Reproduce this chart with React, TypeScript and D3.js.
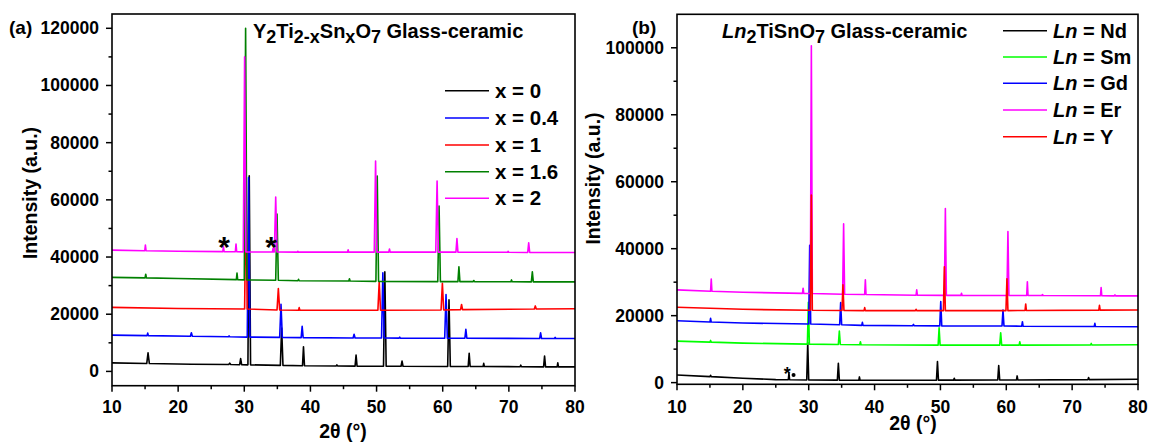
import React from "react";
import * as d3 from "d3";

type Pt = [number, number];

// ---------- Panel (a): Y2Ti2-xSnxO7 ----------
const aSeriesNames = ["x = 0", "x = 0.4", "x = 1", "x = 1.6", "x = 2"];
const aColors = ["#000000", "#0000ff", "#ff0000", "#008000", "#ff00ff"];

const aX0: Pt[] = [[10,3000],[15.25,2750],[15.45,6500],[15.65,2750],[22,2500],[27.65,2400],[27.8,2900],[27.95,2400],[29.3,2350],[29.45,4500],[29.6,2350],[30.55,2300],[30.75,68400],[30.95,2300],[35.45,2100],[35.65,15200],[35.85,2100],[38.8,2000],[38.95,8600],[39.1,2000],[43.9,1900],[44.0,2300],[44.1,1900],[46.75,1850],[46.9,5700],[47.05,1850],[51.05,1800],[51.25,34800],[51.45,1800],[53.7,1800],[53.85,3600],[54.0,1800],[60.75,1700],[60.95,25000],[61.15,1700],[63.85,1700],[64.0,6300],[64.15,1700],[66.1,1700],[66.2,2800],[66.3,1700],[71.7,1650],[71.8,2200],[71.9,1650],[75.25,1600],[75.4,5400],[75.55,1600],[77.3,1600],[77.4,3000],[77.5,1600],[80,1600]];
const aX04: Pt[] = [[10,12700],[15.3,12500],[15.4,13400],[15.5,12500],[21.85,12300],[22.0,13500],[22.15,12300],[27.6,12100],[27.7,12400],[27.8,12100],[30.45,12000],[30.65,67800],[30.85,12000],[35.35,11900],[35.55,23500],[35.75,11900],[38.6,11800],[38.75,15800],[38.9,11800],[46.45,11700],[46.6,13000],[46.75,11700],[50.75,11700],[50.95,34500],[51.15,11700],[53.4,11650],[53.5,12000],[53.6,11650],[60.3,11600],[60.5,26900],[60.7,11600],[63.35,11600],[63.5,14700],[63.65,11600],[74.65,11500],[74.8,13500],[74.95,11500],[76.9,11500],[77.0,11900],[77.1,11500],[80,11500]];
const aX1: Pt[] = [[10,22400],[20,22000],[30.05,21800],[30.25,62000],[30.45,21800],[34.95,21500],[35.15,29000],[35.35,21500],[38.2,21400],[38.3,22300],[38.4,21400],[50.2,21400],[50.4,31300],[50.6,21400],[59.75,21500],[59.95,30800],[60.15,21500],[62.7,21600],[62.85,23400],[63.0,21600],[73.85,21800],[74.0,22900],[74.15,21800],[80,21900]];
const aX16: Pt[] = [[10,32900],[15.0,32700],[15.1,34000],[15.2,32700],[20,32500],[28.8,32100],[28.9,34400],[29.0,32100],[30.0,32000],[30.2,120000],[30.4,32000],[34.75,31900],[34.95,55000],[35.15,31900],[38.1,31700],[38.2,32200],[38.3,31700],[45.8,31600],[45.9,32400],[46.0,31600],[49.9,31500],[50.1,68300],[50.3,31500],[59.25,31400],[59.45,57800],[59.65,31400],[62.3,31400],[62.45,36600],[62.6,31400],[64.6,31400],[64.7,31800],[64.8,31400],[70.3,31350],[70.4,32000],[70.5,31350],[73.4,31300],[73.55,34800],[73.7,31300],[80,31300]];
const aX2: Pt[] = [[10,42400],[14.95,42200],[15.05,44200],[15.15,42200],[20,42000],[26.75,41900],[26.85,43600],[26.95,41900],[28.65,41850],[28.75,44500],[28.85,41850],[29.85,41800],[30.05,110000],[30.25,41800],[34.25,41750],[34.35,43000],[34.45,41750],[34.55,41750],[34.75,61000],[34.95,41750],[38.0,41700],[38.1,42000],[38.2,41700],[45.6,41700],[45.7,42500],[45.8,41700],[49.65,41700],[49.85,73600],[50.05,41700],[51.85,41700],[51.95,42800],[52.05,41700],[58.95,41700],[59.15,66600],[59.35,41700],[62.0,41700],[62.15,46500],[62.3,41700],[69.8,41650],[69.9,42000],[70.0,41650],[72.85,41600],[73.0,45000],[73.15,41600],[80,41600]];
const aSeries = [aX0, aX04, aX1, aX16, aX2];

const aXTicks = [10, 20, 30, 40, 50, 60, 70, 80];
const aXMinor = [15, 25, 35, 45, 55, 65, 75];
const aYTicks = [0, 20000, 40000, 60000, 80000, 100000, 120000];
const aYMinor = [10000, 30000, 50000, 70000, 90000, 110000];
const aStars: Pt[] = [[26.95, 45500], [34.05, 45500]];

// ---------- Panel (b): Ln2TiSnO7 ----------
const bSeriesNames = ["Nd", "Sm", "Gd", "Er", "Y"];
const bColors = ["#000000", "#00ff00", "#0000ff", "#ff00ff", "#ff0000"];

const bNd: Pt[] = [[10,2300],[15.0,1800],[15.1,2200],[15.2,1800],[20,1300],[25,900],[26.9,850],[27.0,2800],[27.1,850],[29.7,800],[29.85,12000],[30.0,800],[34.35,750],[34.5,5800],[34.65,750],[37.6,700],[37.7,1700],[37.8,700],[40,700],[49.4,750],[49.55,6300],[49.7,750],[52.0,750],[52.1,1300],[52.2,750],[58.7,800],[58.85,5100],[59.0,800],[61.55,800],[61.65,2000],[61.75,800],[72.4,900],[72.5,1500],[72.6,900],[80,1000]];
const bSm: Pt[] = [[10,12400],[15.0,12100],[15.1,12600],[15.2,12100],[20,11800],[29.8,11500],[29.95,24000],[30.1,11500],[34.5,11400],[34.65,15400],[34.8,11400],[37.75,11300],[37.85,12200],[37.95,11300],[49.65,11200],[49.8,16400],[49.95,11200],[59.0,11200],[59.15,14900],[59.3,11200],[61.95,11200],[62.05,12200],[62.15,11200],[72.8,11250],[72.9,11700],[73.0,11250],[80,11300]];
const bGd: Pt[] = [[10,18500],[15.0,18100],[15.1,19200],[15.2,18100],[20,17800],[30.0,17500],[30.15,41000],[30.3,17500],[34.7,17300],[34.85,23900],[35.0,17300],[38.05,17100],[38.15,18000],[38.25,17100],[45.8,17000],[45.9,17400],[46.0,17000],[49.9,16950],[50.05,24200],[50.2,16950],[59.35,16900],[59.5,21700],[59.65,16900],[62.35,16850],[62.45,18200],[62.55,16850],[73.35,16750],[73.45,17700],[73.55,16750],[80,16700]];
const bEr: Pt[] = [[10,27700],[15.1,27300],[15.2,30900],[15.3,27300],[20,27000],[29.05,26650],[29.15,28200],[29.25,26650],[30.25,26600],[30.4,100600],[30.55,26600],[35.15,26400],[35.3,47400],[35.45,26400],[38.5,26300],[38.6,30700],[38.7,26300],[46.3,26100],[46.4,27700],[46.5,26100],[50.6,26050],[50.75,52000],[50.9,26050],[53.1,26050],[53.2,26700],[53.3,26050],[60.1,26000],[60.25,45100],[60.4,26000],[63.1,26000],[63.2,30100],[63.3,26000],[65.4,26000],[65.5,26300],[65.6,26000],[74.3,25950],[74.4,28400],[74.5,25950],[76.4,25900],[76.5,26200],[76.6,25900],[80,25900]];
const bY: Pt[] = [[10,22500],[20,21900],[30.25,21600],[30.4,56000],[30.55,21600],[35.05,21550],[35.2,29200],[35.35,21550],[38.4,21500],[38.5,22400],[38.6,21500],[46.2,21500],[46.3,21900],[46.4,21500],[50.45,21500],[50.6,34600],[50.75,21500],[59.95,21500],[60.1,31000],[60.25,21500],[62.85,21550],[62.95,23500],[63.05,21550],[74.05,21650],[74.15,23100],[74.25,21650],[80,21700]];
const bSeries = [bNd, bSm, bGd, bEr, bY];

const bXTicks = [10, 20, 30, 40, 50, 60, 70, 80];
const bXMinor = [15, 25, 35, 45, 55, 65, 75];
const bYTicks = [0, 20000, 40000, 60000, 80000, 100000];
const bYMinor = [10000, 30000, 50000, 70000, 90000];
const bStar: Pt = [26.75, 3500];
const bDot: Pt = [27.7, 2300];

const FONT = "'Liberation Sans', Arial, Helvetica, sans-serif";

interface AxesProps {
  x: d3.ScaleLinear<number, number>;
  y: d3.ScaleLinear<number, number>;
  xTicks: number[];
  xMinor: number[];
  yTicks: number[];
  yMinor: number[];
}

function Axes({ x, y, xTicks, xMinor, yTicks, yMinor }: AxesProps) {
  const [x0, x1] = x.range();
  const [y0, y1] = y.range();
  return (
    <g fontFamily={FONT} fontWeight="bold">
      <rect x={x0} y={y1} width={x1 - x0} height={y0 - y1} fill="none" stroke="#000" strokeWidth={1.6} />
      {xTicks.map((t) => (
        <g key={"xt" + t}>
          <line x1={x(t)} x2={x(t)} y1={y0} y2={y0 + 6} stroke="#000" strokeWidth={1.5} />
          <text x={x(t)} y={412.5} textAnchor="middle" fontSize={17.5}>{t}</text>
        </g>
      ))}
      {xMinor.map((t) => (
        <line key={"xm" + t} x1={x(t)} x2={x(t)} y1={y0} y2={y0 + 3.5} stroke="#000" strokeWidth={1.5} />
      ))}
      {yTicks.map((t) => (
        <g key={"yt" + t}>
          <line x1={x0 - 6} x2={x0} y1={y(t)} y2={y(t)} stroke="#000" strokeWidth={1.5} />
          <text x={x0 - 13} y={y(t) + 6} textAnchor="end" fontSize={17.5}>{t}</text>
        </g>
      ))}
      {yMinor.map((t) => (
        <line key={"ym" + t} x1={x0 - 3.5} x2={x0} y1={y(t)} y2={y(t)} stroke="#000" strokeWidth={1.5} />
      ))}
    </g>
  );
}

export default function App() {
  // Panel (a) scales
  const ax = d3.scaleLinear().domain([10, 80]).range([112, 575]);
  const ay = d3.scaleLinear().domain([-5000, 125000]).range([385.7, 14]);
  // Panel (b) scales
  const bx = d3.scaleLinear().domain([10, 80]).range([677, 1138]);
  const by = d3.scaleLinear().domain([-500, 110000]).range([384.3, 14.3]);

  const aLine = d3.line<Pt>().x((d) => ax(d[0])).y((d) => ay(d[1]));
  const bLine = d3.line<Pt>().x((d) => bx(d[0])).y((d) => by(d[1]));

  const aLegendY = [90.7, 118, 145, 171.7, 198.3];
  const bLegendY = [30.7, 56.9, 83.3, 110, 136.7];

  return (
    <svg width={1149} height={443} style={{ position: "absolute", left: 0, top: 0, background: "#fff" }}>
      <rect width={1149} height={443} fill="#fff" />
      {/* ---------------- Panel (a) ---------------- */}
      <g>
        {aSeries.map((s, i) => (
          <path key={"a" + i} d={aLine(s) || ""} fill="none" stroke={aColors[i]} strokeWidth={1.6} strokeLinejoin="round" />
        ))}
        <Axes x={ax} y={ay} xTicks={aXTicks} xMinor={aXMinor} yTicks={aYTicks} yMinor={aYMinor} />
        <g fontFamily={FONT} fontWeight="bold" fill="#000">
          <text x={9} y={34} fontSize={19}>(a)</text>
          <text x={253} y={38} fontSize={20}>
            Y<tspan dy={5} fontSize={18}>2</tspan>
            <tspan dy={-5}>Ti</tspan>
            <tspan dy={5} fontSize={18}>2-x</tspan>
            <tspan dy={-5}>Sn</tspan>
            <tspan dy={5} fontSize={18}>x</tspan>
            <tspan dy={-5}>O</tspan>
            <tspan dy={5} fontSize={18}>7</tspan>
            <tspan dy={-5}> Glass-ceramic</tspan>
          </text>
          <text transform={`translate(37,193) rotate(-90)`} textAnchor="middle" fontSize={19.5}>Intensity (a.u.)</text>
          <text x={343} y={438} textAnchor="middle" fontSize={19.5}>2θ (°)</text>
          {aStars.map((p, i) => (
            <text key={"s" + i} x={ax(p[0])} y={ay(p[1]) + 16} textAnchor="middle" fontSize={30}>*</text>
          ))}
          {aSeriesNames.map((n, i) => (
            <g key={"al" + i}>
              <line x1={445} x2={489} y1={aLegendY[i]} y2={aLegendY[i]} stroke={aColors[i]} strokeWidth={1.5} />
              <text x={495} y={aLegendY[i] + 7} fontSize={20.5}>{n}</text>
            </g>
          ))}
        </g>
      </g>

      {/* ---------------- Panel (b) ---------------- */}
      <g>
        {bSeries.map((s, i) => (
          <path key={"b" + i} d={bLine(s) || ""} fill="none" stroke={bColors[i]} strokeWidth={1.6} strokeLinejoin="round" />
        ))}
        <Axes x={bx} y={by} xTicks={bXTicks} xMinor={bXMinor} yTicks={bYTicks} yMinor={bYMinor} />
        <g fontFamily={FONT} fontWeight="bold" fill="#000">
          <text x={632} y={34} fontSize={19}>(b)</text>
          <text x={722} y={38} fontSize={20}>
            <tspan fontStyle="italic">Ln</tspan>
            <tspan dy={5} fontSize={18}>2</tspan>
            <tspan dy={-5}>TiSnO</tspan>
            <tspan dy={5} fontSize={18}>7</tspan>
            <tspan dy={-5}> Glass-ceramic</tspan>
          </text>
          <text transform={`translate(600,178.5) rotate(-90)`} textAnchor="middle" fontSize={19.5}>Intensity (a.u.)</text>
          <text x={913} y={430} textAnchor="middle" fontSize={19.5}>2θ (°)</text>
          <text x={bx(bStar[0])} y={by(bStar[1]) + 9} textAnchor="middle" fontSize={18}>*</text>
          <circle cx={bx(bDot[0])} cy={by(bDot[1])} r={2} fill="#000" />
          {bSeriesNames.map((n, i) => (
            <g key={"bl" + i}>
              <line x1={1003} x2={1047} y1={bLegendY[i]} y2={bLegendY[i]} stroke={bColors[i]} strokeWidth={1.5} />
              <text x={1053} y={bLegendY[i] + 7} fontSize={20}>
                <tspan fontStyle="italic">Ln</tspan> = {n}
              </text>
            </g>
          ))}
        </g>
      </g>
    </svg>
  );
}
